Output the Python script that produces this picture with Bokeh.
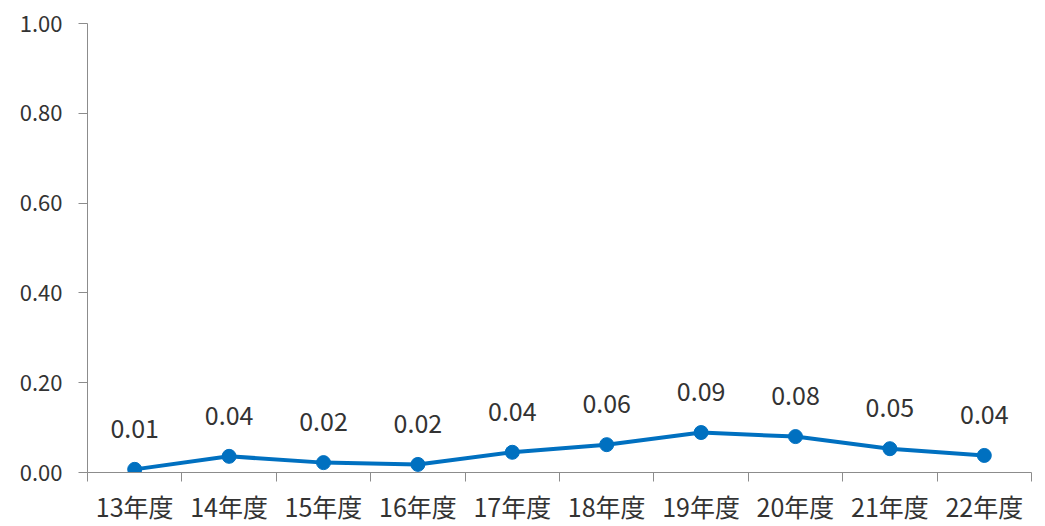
from bokeh.plotting import figure
from bokeh.models import ColumnDataSource, FixedTicker, Range1d, NumeralTickFormatter
from bokeh.embed import file_html
from bokeh.resources import INLINE
from bokeh.core.properties import value

categories = ["13年度", "14年度", "15年度", "16年度", "17年度", "18年度", "19年度", "20年度", "21年度", "22年度"]
values = [0.007, 0.036, 0.022, 0.018, 0.045, 0.062, 0.089, 0.080, 0.053, 0.038]
labels = ["0.01", "0.04", "0.02", "0.02", "0.04", "0.06", "0.09", "0.08", "0.05", "0.04"]
y_ticks = [0.0, 0.2, 0.4, 0.6, 0.8, 1.0]

FONT = "Noto Sans CJK JP"
BLUE = "#0070C0"
AXIS = "#8c8c8c"
TXT = "#333333"

n = len(categories)
xs = [i + 0.5 for i in range(n)]
src = ColumnDataSource(dict(x=xs, y=values, label=labels))

p = figure(width=1045, height=526, output_backend="svg", toolbar_location=None,
           x_range=Range1d(0, n), y_range=Range1d(0, 1.0),
           min_border_left=87, min_border_right=14, min_border_top=23, min_border_bottom=54)
p.outline_line_color = None
p.xgrid.visible = False
p.ygrid.visible = False

p.line("x", "y", source=src, line_color=BLUE, line_width=4)
p.scatter("x", "y", source=src, size=14, fill_color=BLUE, line_color=BLUE)
p.text("x", "y", text="label", source=src, y_offset=-41, text_align="center",
       text_baseline="middle", text_font=value(FONT), text_font_size="25px", text_color=TXT)

xa = p.xaxis[0]
xa.ticker = FixedTicker(ticks=xs, minor_ticks=list(range(n + 1)))
xa.major_label_overrides = {x: c for x, c in zip(xs, categories)}
xa.major_tick_out = 0
xa.major_tick_in = 0
xa.minor_tick_out = 9
xa.minor_tick_in = 0
xa.minor_tick_line_color = AXIS
xa.axis_line_color = AXIS
xa.major_label_text_font = FONT
xa.major_label_text_font_size = "25px"
xa.major_label_text_color = TXT
xa.major_label_standoff = 6

ya = p.yaxis[0]
ya.ticker = FixedTicker(ticks=y_ticks)
ya.formatter = NumeralTickFormatter(format="0.00")
ya.major_tick_out = 9
ya.major_tick_in = 0
ya.minor_tick_out = 0
ya.major_tick_line_color = AXIS
ya.axis_line_color = AXIS
ya.major_label_text_font = FONT
ya.major_label_text_font_size = "22px"
ya.major_label_text_color = TXT
ya.major_label_standoff = 16

open("out.html", "w").write(file_html(p, INLINE))
